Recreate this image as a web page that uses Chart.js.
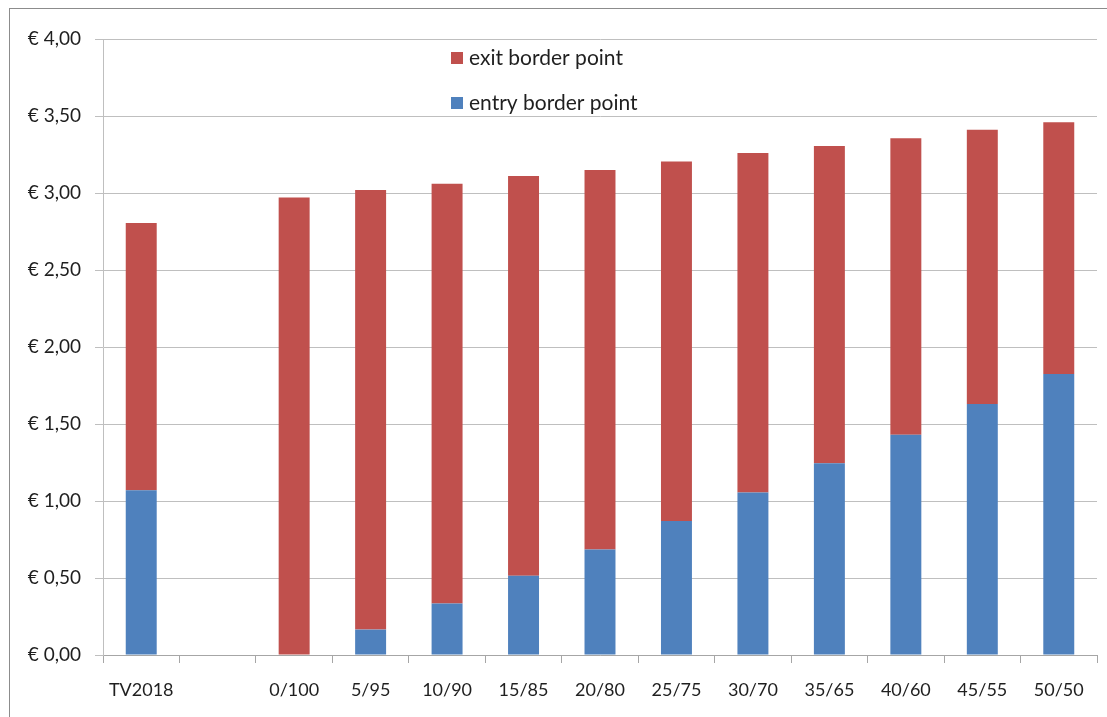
<!DOCTYPE html>
<html>
<head>
<meta charset="utf-8">
<script src="https://cdn.jsdelivr.net/npm/chart.js@4"></script>
<style>
  html, body { margin: 0; padding: 0; background: #fff; }
  #wrap { width: 1107px; height: 717px; position: relative; }
</style>
</head>
<body>
<div id="wrap"><canvas id="chart"></canvas></div>
<script>
// categories and values
const categories = ['TV2018', '', '0/100', '5/95', '10/90', '15/85', '20/80', '25/75', '30/70', '35/65', '40/60', '45/55', '50/50'];
const entryValues = [1.07, null, 0, 0.165, 0.335, 0.515, 0.685, 0.87, 1.055, 1.245, 1.43, 1.63, 1.825];
const exitValues = [1.735, null, 2.97, 2.855, 2.725, 2.595, 2.465, 2.335, 2.205, 2.06, 1.925, 1.78, 1.635];
const yTicks = [0, 0.5, 1, 1.5, 2, 2.5, 3, 3.5, 4];

const FONT = 'Lato, "Open Sans", sans-serif';
const TEXT = '#1f1f1f';

// outer frame (only top and left edge are visible in the crop)
const framePlugin = {
  id: 'frame',
  afterDraw(chart) {
    const ctx = chart.ctx;
    ctx.save();
    ctx.strokeStyle = '#8c8c8c';
    ctx.lineWidth = 1;
    ctx.strokeRect(9.5, 8.5, 1120, 730);
    ctx.restore();
  }
};

// legend drawn inside the plot, exit first like the original
const legendPlugin = {
  id: 'innerLegend',
  afterDraw(chart) {
    const ctx = chart.ctx;
    const items = [chart.data.datasets[1], chart.data.datasets[0]];
    ctx.save();
    ctx.font = '21px ' + FONT;
    ctx.textBaseline = 'middle';
    items.forEach((ds, i) => {
      const y = 58 + i * 45;
      ctx.fillStyle = ds.backgroundColor;
      ctx.fillRect(451, y - 6, 12, 12);
      ctx.fillStyle = TEXT;
      ctx.fillText(ds.label, 469, y);
    });
    ctx.restore();
  }
};

new Chart(document.getElementById('chart'), {
  type: 'bar',
  data: {
    labels: categories,
    datasets: [
      { label: 'entry border point', data: entryValues, backgroundColor: '#4f81bd' },
      { label: 'exit border point', data: exitValues, backgroundColor: '#c0504d' }
    ]
  },
  options: {
    responsive: true,
    maintainAspectRatio: false,
    animation: false,
    layout: { padding: { left: 0, top: 39, right: 10, bottom: 0 } },
    datasets: {
      bar: { categoryPercentage: 1, barPercentage: 0.405 }
    },
    plugins: {
      legend: { display: false },
      tooltip: { enabled: false }
    },
    scales: {
      x: {
        stacked: true,
        grid: {
          display: true,
          drawOnChartArea: false,
          drawTicks: true,
          tickLength: 8,
          color: '#a6a6a6',
          offset: true
        },
        border: { display: true, color: '#a6a6a6' },
        ticks: {
          color: TEXT,
          font: { family: FONT, size: 18 },
          padding: 16,
          maxRotation: 0,
          autoSkip: false
        },
        afterFit(scale) { scale.height = 62; }
      },
      y: {
        stacked: true,
        min: 0,
        max: 4,
        afterBuildTicks(scale) { scale.ticks = yTicks.map(v => ({ value: v })); },
        grid: {
          color: '#bfbfbf',
          tickLength: 8,
          drawTicks: true
        },
        border: { display: true, color: '#bfbfbf' },
        ticks: {
          color: TEXT,
          font: { family: FONT, size: 19 },
          padding: 14,
          callback: v => '\u20ac ' + v.toFixed(2).replace('.', ',')
        },
        afterFit(scale) { scale.width = 103; }
      }
    }
  },
  plugins: [framePlugin, legendPlugin]
});
</script>
</body>
</html>
